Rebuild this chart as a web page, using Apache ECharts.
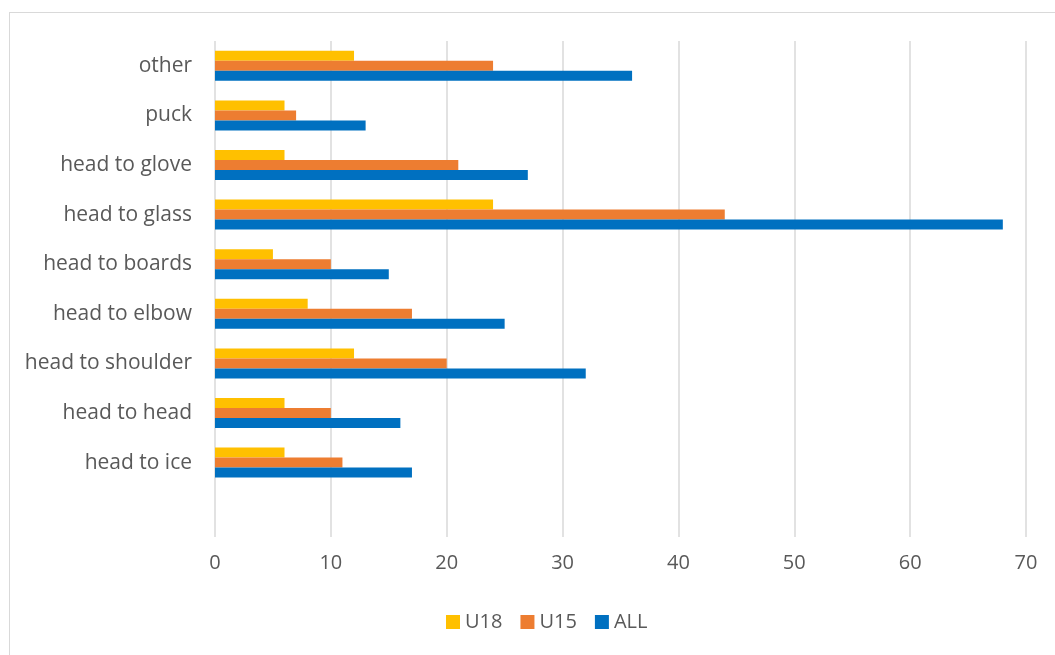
<!DOCTYPE html>
<html>
<head>
<meta charset="utf-8">
<script src="https://cdn.jsdelivr.net/npm/echarts@6/dist/echarts.min.js"></script>
<style>
    html, body { margin: 0; padding: 0; background: #fff; overflow: hidden; }
    #frame { position: absolute; left: 9px; top: 12px; width: 1100px; height: 700px; border: 1.5px solid #d9d9d9; }
    #main { position: absolute; left: 0; top: 0; width: 1055px; height: 655px; }
</style>
</head>
<body>
<div id="frame"></div>
<div id="main"></div>
<script>
    // 类别（从下到上），最下面一格是空的
    var categories = ['', 'head to ice', 'head to head', 'head to shoulder', 'head to elbow',
        'head to boards', 'head to glass', 'head to glove', 'puck', 'other'];
    var u18 = [null, 6, 6, 12, 8, 5, 24, 6, 6, 12];
    var u15 = [null, 11, 10, 20, 17, 10, 44, 21, 7, 24];
    var all = [null, 17, 16, 32, 25, 15, 68, 27, 13, 36];
    var xTicks = [0, 10, 20, 30, 40, 50, 60, 70];

    var font = '"Open Sans", sans-serif';
    var myChart = echarts.init(document.getElementById('main'));
    var option = {
        animation: false,
        grid: {
            left: 215,
            right: 29,
            top: 41,
            bottom: 118
        },
        legend: {
            data: ['U18', 'U15', 'ALL'],
            top: 607,
            left: 441,
            itemWidth: 14,
            itemHeight: 14,
            itemGap: 18,
            icon: 'rect',
            textStyle: { color: '#595959', fontSize: 20, fontFamily: font }
        },
        xAxis: {
            type: 'value',
            min: xTicks[0],
            max: xTicks[xTicks.length - 1],
            interval: 10,
            axisLine: { show: false },
            axisTick: { show: false },
            axisLabel: { color: '#595959', fontSize: 20, fontFamily: font, margin: 16 },
            splitLine: { show: true, lineStyle: { color: '#d9d9d9', width: 1.5 } }
        },
        yAxis: {
            type: 'category',
            data: categories,
            axisLine: { show: false },
            axisTick: { show: false },
            axisLabel: { color: '#595959', fontSize: 21, fontFamily: font, margin: 23 }
        },
        series: [{
            name: 'U18',
            type: 'bar',
            data: u18,
            barWidth: 10,
            barGap: '0%',
            itemStyle: { color: '#FFC000' }
        }, {
            name: 'U15',
            type: 'bar',
            data: u15,
            barWidth: 10,
            barGap: '0%',
            itemStyle: { color: '#ED7D31' }
        }, {
            name: 'ALL',
            type: 'bar',
            data: all,
            barWidth: 10,
            barGap: '0%',
            itemStyle: { color: '#0070C0' }
        }]
    };
    myChart.setOption(option);
</script>
</body>
</html>
